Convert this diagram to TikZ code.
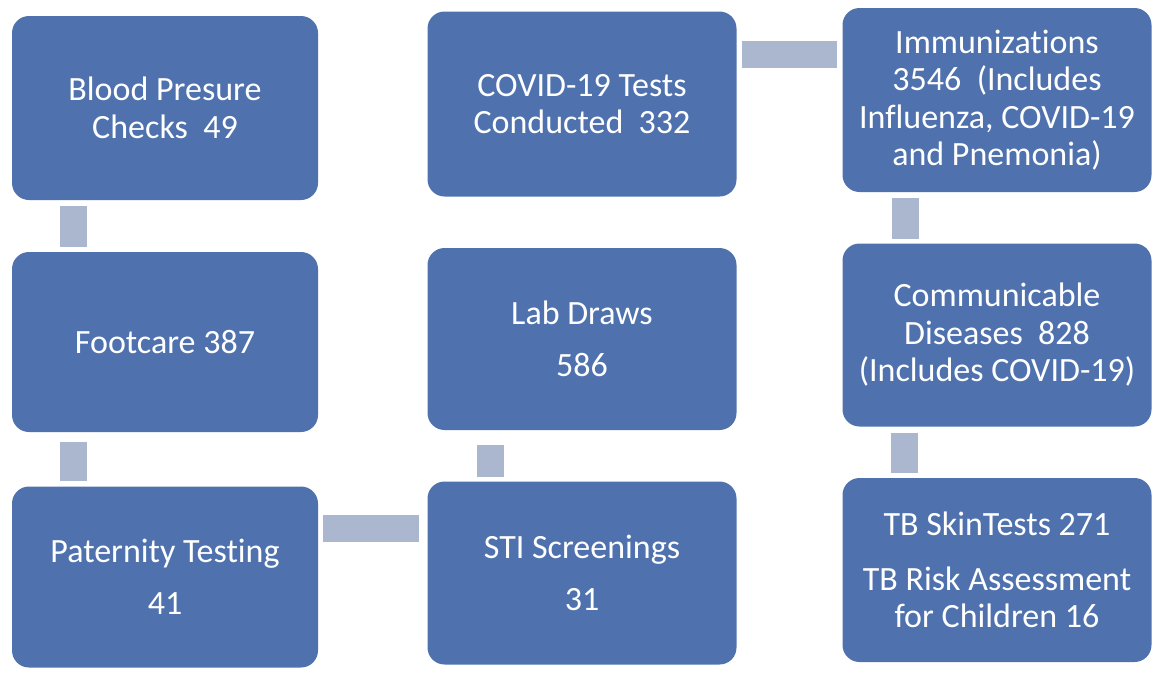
\documentclass[tikz,border=0pt]{standalone}
\usepackage{fontspec}
\setmainfont[Ligatures=NoCommon]{Carlito}
\definecolor{boxblue}{RGB}{79,114,174}
\definecolor{connblue}{RGB}{170,183,207}
\begin{document}
\begin{tikzpicture}[x=1pt,y=-1pt,
  box/.style={rectangle, rounded corners=17pt, fill=boxblue, text=white, align=center,
    font=\fontsize{34}{37.5}\selectfont, inner sep=0pt},
  conn/.style={draw=connblue, line width=27pt},
]
\useasboundingbox[fill=white] (0,0) rectangle (1158,675);
\node[box, minimum width=306pt, minimum height=184pt] (bp) at (165,108) {Blood Presure\\Checks\ \ 49};
\node[box, minimum width=306pt, minimum height=180pt] (fc) at (165,342) {Footcare 387};
\node[box, minimum width=306pt, minimum height=181pt] (pt) at (165,577) {Paternity Testing\\[15pt]41};
\node[box, minimum width=309pt, minimum height=185pt] (cv) at (582,104) {COVID-19 Tests\\Conducted\ \ 332};
\node[box, minimum width=309pt, minimum height=182pt] (lab) at (582,339) {Lab Draws\\[15pt]586};
\node[box, minimum width=309pt, minimum height=183pt] (sti) at (582,573) {STI Screenings\\[14pt]31};
\node[box, minimum width=309pt, minimum height=184pt] (im) at (997,100) {Immunizations\\3546\ \ (Includes\\Influenza, COVID-19\\and Pnemonia)};
\node[box, minimum width=309pt, minimum height=183pt] (cm) at (997,335) {Communicable\\Diseases\ \ 828\\(Includes COVID-19)};
\node[box, minimum width=309pt, minimum height=184pt] (tb) at (997,570) {TB SkinTests 271\\[17pt]TB Risk Assessment\\for Children 16};
\draw[conn, shorten <=6pt, shorten >=5pt] ([xshift=-92pt]bp.south) -- ([xshift=-92pt]fc.north);
\draw[conn, shorten <=10pt, shorten >=5pt] ([xshift=-92pt]fc.south) -- ([xshift=-92pt]pt.north);
\draw[conn, shorten <=5pt, shorten >=8pt] ([yshift=49pt]pt.east) -- ([yshift=45pt]sti.west);
\draw[conn, shorten <=4pt, shorten >=15pt] ([xshift=-92pt]sti.north) -- ([xshift=-92pt]lab.south);
\draw[conn, shorten <=5pt, shorten >=5pt] ([yshift=50pt]cv.east) -- ([yshift=46pt]im.west);
\draw[conn, shorten <=6pt, shorten >=4pt] ([xshift=-92pt]im.south) -- ([xshift=-92pt]cm.north);
\draw[conn, shorten <=6pt, shorten >=5pt] ([xshift=-93pt]cm.south) -- ([xshift=-93pt]tb.north);
\end{tikzpicture}
\end{document}
